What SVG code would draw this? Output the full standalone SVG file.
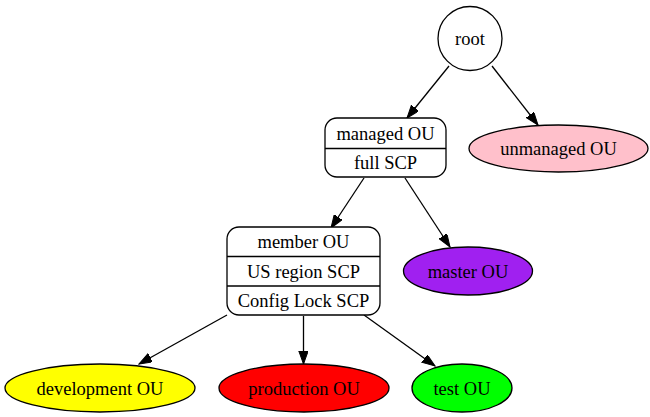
<svg xmlns="http://www.w3.org/2000/svg" width="650" height="417" viewBox="0 0 650 417">
<style>
.n{stroke:#000;stroke-width:1.3;}
.t{font-family:"Liberation Serif","Times New Roman",serif;font-size:18.5px;text-anchor:middle;fill:#000;}
.e{stroke:#000;stroke-width:1.3;fill:none;marker-end:url(#ah);}
</style>
<defs>
<marker id="ah" markerUnits="userSpaceOnUse" markerWidth="14" markerHeight="10" refX="13" refY="4.7" orient="auto">
<path d="M0,0 L13,4.7 L0,9.4 Z" fill="#000" stroke="#000" stroke-width="1"/>
</marker>
</defs>
<rect width="650" height="417" fill="#fff"/>
<g id="edges">
<line class="e" x1="449" y1="66" x2="407" y2="118"/>
<line class="e" x1="492" y1="66" x2="538" y2="125"/>
<line class="e" x1="364" y1="178" x2="331" y2="228"/>
<line class="e" x1="405" y1="178" x2="450" y2="247"/>
<line class="e" x1="227" y1="315" x2="139" y2="364"/>
<line class="e" x1="303.5" y1="316" x2="303.5" y2="364"/>
<line class="e" x1="364" y1="315" x2="435" y2="366"/>
</g>
<g id="root">
<circle class="n" cx="470" cy="38.5" r="32" fill="#fff"/>
<text class="t" x="470" y="45">root</text>
</g>
<g id="managed">
<rect class="n" x="325" y="118" width="121" height="59" rx="12" fill="#fff"/>
<line class="n" x1="325" y1="148.5" x2="446" y2="148.5"/>
<text class="t" x="385.5" y="139.5">managed OU</text>
<text class="t" x="385.5" y="169">full SCP</text>
</g>
<g id="unmanaged">
<ellipse class="n" cx="558.5" cy="148.5" rx="89.5" ry="23.5" fill="#ffc0cb"/>
<text class="t" x="558.5" y="155">unmanaged OU</text>
</g>
<g id="member">
<rect class="n" x="227" y="227" width="153" height="88" rx="12" fill="#fff"/>
<line class="n" x1="227" y1="256.5" x2="380" y2="256.5"/>
<line class="n" x1="227" y1="286" x2="380" y2="286"/>
<text class="t" x="303.5" y="248">member OU</text>
<text class="t" x="303.5" y="277.5">US region SCP</text>
<text class="t" x="303.5" y="307">Config Lock SCP</text>
</g>
<g id="master">
<ellipse class="n" cx="468" cy="271" rx="64.5" ry="24" fill="#a020f0"/>
<text class="t" x="468" y="277.5">master OU</text>
</g>
<g id="development">
<ellipse class="n" cx="100" cy="388" rx="95" ry="24" fill="#ffff00"/>
<text class="t" x="100" y="394.5">development OU</text>
</g>
<g id="production">
<ellipse class="n" cx="304" cy="388" rx="85" ry="24" fill="#ff0000"/>
<text class="t" x="304" y="394.5">production OU</text>
</g>
<g id="test">
<ellipse class="n" cx="462" cy="388" rx="50" ry="24" fill="#00ff00"/>
<text class="t" x="462" y="394.5">test OU</text>
</g>
</svg>
